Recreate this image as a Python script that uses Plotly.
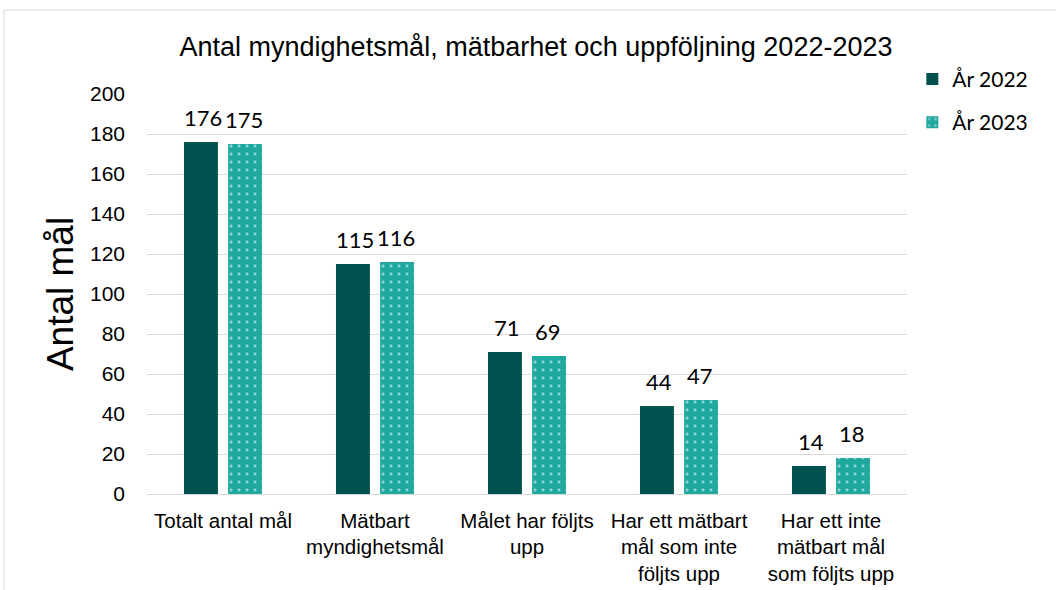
import plotly.graph_objects as go

categories = ["Totalt antal mål", "Mätbart<br>myndighetsmål", "Målet har följts<br>upp",
              "Har ett mätbart<br>mål som inte<br>följts upp", "Har ett inte<br>mätbart mål<br>som följts upp"]
values_2022 = [176, 115, 71, 44, 14]
values_2023 = [175, 116, 69, 47, 18]
series_names = ["År 2022", "År 2023"]
y_ticks = [0, 20, 40, 60, 80, 100, 120, 140, 160, 180, 200]

# target plot box in screenshot pixels
L, R, T, B = 147, 907, 94, 494
W, H = 1056, 590

fig = go.Figure()
fig.add_trace(go.Bar(
    x=categories, y=values_2022, name=series_names[0], legendgroup="a",
    marker=dict(color="#03514F", line=dict(width=0)),
))
fig.add_trace(go.Bar(
    x=categories, y=values_2023, name=series_names[1], legendgroup="b",
    marker=dict(color="#20A99F", line=dict(width=0),
                pattern=dict(shape=".", fgcolor="#FFFFFF", bgcolor="#20A99F", size=8, solidity=0.1)),
))

# data labels
for vals, dx in ((values_2022, -20), (values_2023, 21)):
    for c, v in zip(categories, vals):
        fig.add_annotation(x=c, y=v, xref="x", yref="y", text=str(v), showarrow=False,
                           xshift=dx, yshift=25, yanchor="middle",
                           font=dict(family="Lato", size=22, color="#000000"))

fig.update_layout(
    width=W, height=H,
    margin=dict(l=L, r=W - R, t=T, b=H - B, autoexpand=False),
    paper_bgcolor="white", plot_bgcolor="white",
    barmode="group", bargap=0.42, bargroupgap=0.23,
    title=dict(text="Antal myndighetsmål, mätbarhet och uppföljning 2022-2023",
               x=536 / W, xanchor="center", y=1 - 47 / H, yanchor="middle",
               font=dict(family="Liberation Sans, Arial", size=27, color="#000000")),
    legend=dict(x=1.007, y=1.088, xanchor="left", yanchor="top",
                font=dict(family="Lato", size=21, color="#000000"),
                tracegroupgap=13, itemwidth=30, bgcolor="rgba(0,0,0,0)"),
    font=dict(family="Liberation Sans, Arial", color="#000000"),
    showlegend=True,
)
fig.update_yaxes(range=[0, 200], tickvals=y_ticks, showgrid=True, gridcolor="#D9D9D9",
                 gridwidth=1, zeroline=False, showline=False, ticks="",
                 tickfont=dict(family="Liberation Sans, Arial", size=21, color="#000000"),
                 ticklabelstandoff=21,
                 title=dict(text="Antal mål", font=dict(family="Liberation Sans, Arial", size=37, color="#000000"),
                            standoff=5))
fig.update_xaxes(showline=True, linecolor="#D9D9D9", linewidth=1, ticks="",
                 ticklabelstandoff=8,
                 tickfont=dict(family="Liberation Sans, Arial", size=20.5, color="#000000"))

# outer chart border
fig.add_shape(type="rect", xref="paper", yref="paper",
              x0=(4 - L) / (R - L), x1=(1100 - L) / (R - L),
              y0=(B - 650) / (B - T), y1=(B - 10) / (B - T),
              line=dict(color="#D9D9D9", width=1), fillcolor="rgba(0,0,0,0)", layer="below")

fig.write_html("out.html", config={"displayModeBar": False},
               post_script="document.body.style.margin='0px';")
